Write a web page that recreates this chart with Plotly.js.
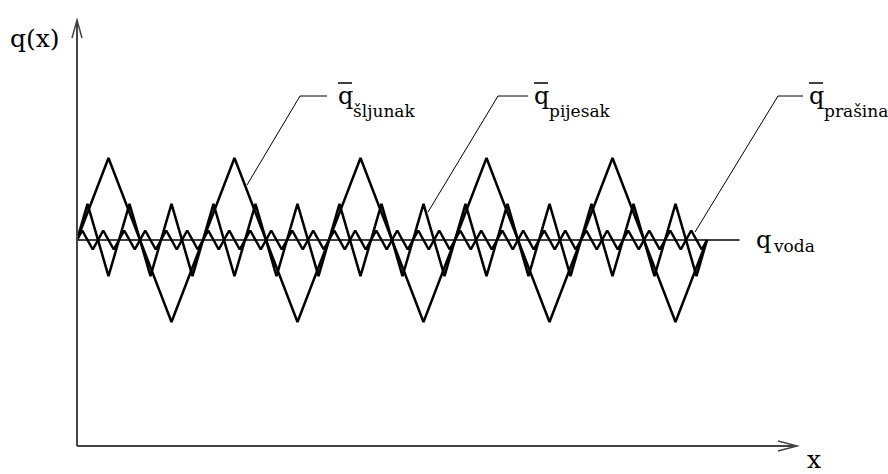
<!DOCTYPE html>
<html>
<head>
<meta charset="utf-8">
<script src="https://cdn.plot.ly/plotly-3.0.1.min.js"></script>
<style>
  html, body { margin: 0; padding: 0; background: #fff; }
  #chart { width: 888px; height: 474px; }
</style>
</head>
<body>
<div id="chart"></div>
<script>
/* ===== Data (x in half-periods of the finest wave, y in units of the largest amplitude) ===== */
const vodaX = [0, 63.1];
const vodaY = [0, 0];

// q̄ šljunak : largest, slowest wave
const sljunakX = [0, 3, 9, 15, 21, 27, 33, 39, 45, 51, 57, 60];
const sljunakY = [0, 1, -1, 1, -1, 1, -1, 1, -1, 1, -1, 0];

// q̄ pijesak : medium wave
const pijesakX = [0, 1, 3, 5, 7, 9, 11, 13, 15, 17, 19, 21, 23, 25, 27, 29,
                  31, 33, 35, 37, 39, 41, 43, 45, 47, 49, 51, 53, 55, 57, 59, 60];
const pijesakY = [0, 0.44, -0.44, 0.44, -0.44, 0.44, -0.44, 0.44, -0.44, 0.44, -0.44,
                  0.44, -0.44, 0.44, -0.44, 0.44, -0.44, 0.44, -0.44, 0.44, -0.44,
                  0.44, -0.44, 0.44, -0.44, 0.44, -0.44, 0.44, -0.44, 0.44, -0.44, 0];

// q̄ prašina : smallest, fastest wave
const prasinaX = [0, 0.5, 1.5, 2.5, 3.5, 4.5, 5.5, 6.5, 7.5, 8.5, 9.5, 10.5, 11.5, 12.5,
                  13.5, 14.5, 15.5, 16.5, 17.5, 18.5, 19.5, 20.5, 21.5, 22.5, 23.5, 24.5,
                  25.5, 26.5, 27.5, 28.5, 29.5, 30.5, 31.5, 32.5, 33.5, 34.5, 35.5, 36.5,
                  37.5, 38.5, 39.5, 40.5, 41.5, 42.5, 43.5, 44.5, 45.5, 46.5, 47.5, 48.5,
                  49.5, 50.5, 51.5, 52.5, 53.5, 54.5, 55.5, 56.5, 57.5, 58.5, 59.5, 60];
const prasinaY = [0, 0.116, -0.116, 0.116, -0.116, 0.116, -0.116, 0.116, -0.116, 0.116, -0.116,
                  0.116, -0.116, 0.116, -0.116, 0.116, -0.116, 0.116, -0.116, 0.116, -0.116,
                  0.116, -0.116, 0.116, -0.116, 0.116, -0.116, 0.116, -0.116, 0.116, -0.116,
                  0.116, -0.116, 0.116, -0.116, 0.116, -0.116, 0.116, -0.116, 0.116, -0.116,
                  0.116, -0.116, 0.116, -0.116, 0.116, -0.116, 0.116, -0.116, 0.116, -0.116,
                  0.116, -0.116, 0.116, -0.116, 0.116, -0.116, 0.116, -0.116, 0.116, -0.116, 0];

/* ===== Helpers: decorations placed in page pixels ===== */
const W = 888, H = 474;
const px = x => x / W;
const py = y => 1 - y / H;
const serif = "DejaVu Serif";

function pathShape(pts, color, width) {
    return {
        type: "path", xref: "paper", yref: "paper",
        path: "M" + pts.map(p => px(p[0]) + "," + py(p[1])).join("L"),
        line: { color: color, width: width }
    };
}

function label(text, x, y, size, anchor) {
    return {
        xref: "paper", yref: "paper", x: px(x), y: py(y),
        xanchor: anchor || "left", yanchor: "middle",
        text: text, showarrow: false,
        font: { family: serif, size: size, color: "#000" }
    };
}

/* ===== Traces ===== */
const lineStyle = { color: "#000", width: 2.5 };
const traces = [
    { x: vodaX, y: vodaY, mode: "lines", line: { color: "#000", width: 1.5 }, hoverinfo: "skip" },
    { x: sljunakX, y: sljunakY, mode: "lines", line: lineStyle, hoverinfo: "skip" },
    { x: pijesakX, y: pijesakY, mode: "lines", line: lineStyle, hoverinfo: "skip" },
    { x: prasinaX, y: prasinaY, mode: "lines", line: lineStyle, hoverinfo: "skip" }
];

/* ===== Layout ===== */
const axisGray = "#444";
const shapes = [
    // axes with open arrowheads
    pathShape([[77, 446], [77, 20]], axisGray, 2),
    pathShape([[72, 38], [77, 20], [82, 38]], axisGray, 1.5),
    pathShape([[77, 446], [797, 446]], axisGray, 2),
    pathShape([[778, 441], [797, 446], [778, 451]], axisGray, 1.5),
    // leader lines
    pathShape([[247, 185], [300, 96], [327, 96]], "#000", 1),
    pathShape([[428, 212], [498, 96], [528, 96]], "#000", 1),
    pathShape([[695, 232], [778, 96], [803, 96]], "#000", 1),
    // bars over q
    pathShape([[338, 83], [352, 83]], "#000", 1.5),
    pathShape([[534, 83], [548, 83]], "#000", 1.5),
    pathShape([[809, 83], [823, 83]], "#000", 1.5)
];

const annotations = [
    label("q(x)", 8, 38, 25),
    label("x", 814, 459, 25, "center"),
    label("q", 336, 96, 24),
    label("šljunak", 351, 111, 17),
    label("q", 532, 96, 24),
    label("pijesak", 547, 111, 17),
    label("q", 807, 96, 24),
    label("prašina", 822, 111, 17),
    label("q", 754, 240, 24),
    label("voda", 771, 246, 17)
];

const layout = {
    width: W, height: H,
    margin: { l: 0, r: 0, t: 0, b: 0 },
    paper_bgcolor: "#fff", plot_bgcolor: "#fff",
    showlegend: false,
    font: { family: serif },
    xaxis: { range: [-77 / 10.5, (W - 77) / 10.5], visible: false, fixedrange: true },
    yaxis: { range: [(240 - H) / 82, 240 / 82], visible: false, fixedrange: true },
    shapes: shapes,
    annotations: annotations
};

Plotly.newPlot("chart", traces, layout, { displayModeBar: false, staticPlot: true });
</script>
</body>
</html>
